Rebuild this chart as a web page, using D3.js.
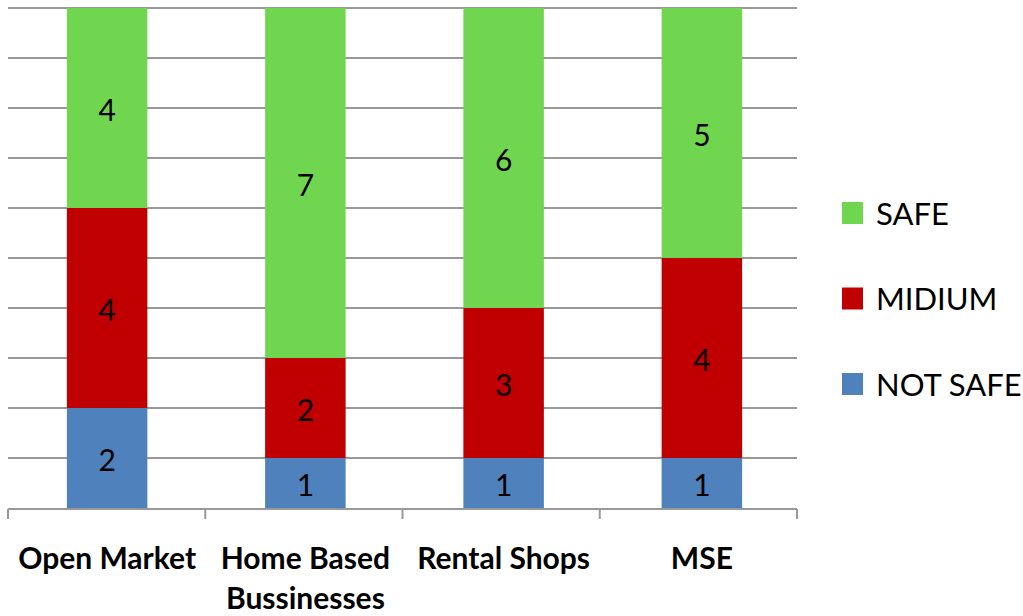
<!DOCTYPE html>
<html>
<head>
<meta charset="utf-8">
<script src="https://cdn.jsdelivr.net/npm/d3@7"></script>
<style>
  html, body { margin: 0; padding: 0; background: #fff; }
  svg { display: block; }
</style>
</head>
<body>
<svg id="chart" width="1023" height="616"></svg>
<script>
// Categories and stacked series values
const categories = ["Open Market", "Home Based Bussinesses", "Rental Shops", "MSE"];
const categoryLines = [["Open Market"], ["Home Based", "Bussinesses"], ["Rental Shops"], ["MSE"]];
const seriesNames = ["NOT SAFE", "MIDIUM", "SAFE"];
const notSafe = [2, 1, 1, 1];
const midium  = [4, 2, 3, 4];
const safe    = [4, 7, 6, 5];
const yTicks  = [0, 1, 2, 3, 4, 5, 6, 7, 8, 9, 10];
const colors  = { "NOT SAFE": "#4F81BD", "MIDIUM": "#C00000", "SAFE": "#70D650" };

const rows = categories.map((c, i) => ({
  cat: c, "NOT SAFE": notSafe[i], "MIDIUM": midium[i], "SAFE": safe[i]
}));

const svg = d3.select("#chart");
const m = { left: 8, right: 797, top: 8, bottom: 508 };
const font = "Lato, 'Open Sans', sans-serif";

// Category axis divisions and bar placement
const axisX = d3.scaleBand().domain(categories).range([m.left, m.right]);
const x = d3.scaleBand().domain(categories).range([m.left, m.right + 4])
  .paddingInner(0.594).paddingOuter(0.297);
const y = d3.scaleLinear().domain([0, 10]).range([m.bottom, m.top]);

// Horizontal gridlines
svg.append("g").selectAll("line").data(yTicks.filter(d => d > 0)).join("line")
  .attr("x1", m.left).attr("x2", m.right)
  .attr("y1", d => y(d)).attr("y2", d => y(d))
  .attr("stroke", "#999").attr("stroke-width", 2);

// Stacked bars
const stack = d3.stack().keys(seriesNames)(rows);
const layers = svg.append("g").selectAll("g").data(stack).join("g")
  .attr("fill", d => colors[d.key]);
layers.selectAll("rect").data(d => d).join("rect")
  .attr("x", d => x(d.data.cat))
  .attr("width", x.bandwidth())
  .attr("y", d => y(d[1]))
  .attr("height", d => y(d[0]) - y(d[1]));

// Value labels inside segments
const labels = svg.append("g");
stack.forEach(layer => {
  layer.forEach(d => {
    labels.append("text")
      .attr("x", x(d.data.cat) + x.bandwidth() / 2)
      .attr("y", (y(d[0]) + y(d[1])) / 2)
      .attr("dy", "0.42em")
      .attr("text-anchor", "middle")
      .attr("font-family", font)
      .attr("font-size", 30)
      .attr("fill", "#000")
      .text(d[1] - d[0]);
  });
});

// Category axis
const axisG = svg.append("g");
axisG.append("line")
  .attr("x1", m.left).attr("x2", m.right)
  .attr("y1", m.bottom + 1).attr("y2", m.bottom + 1)
  .attr("stroke", "#999").attr("stroke-width", 2);
const tickPos = categories.map(c => axisX(c)).concat([m.right]);
axisG.selectAll("line.tick").data(tickPos).join("line")
  .attr("class", "tick")
  .attr("x1", d => d).attr("x2", d => d)
  .attr("y1", m.bottom + 1).attr("y2", m.bottom + 11)
  .attr("stroke", "#999").attr("stroke-width", 2);

categoryLines.forEach((lines, i) => {
  const cx = x(categories[i]) + x.bandwidth() / 2;
  const t = axisG.append("text")
    .attr("x", cx)
    .attr("y", 569)
    .attr("text-anchor", "middle")
    .attr("font-family", font)
    .attr("font-weight", "bold")
    .attr("font-size", 30)
    .attr("fill", "#000");
  lines.forEach((ln, j) => {
    t.append("tspan").attr("x", cx)
      .attr("dy", j === 0 ? 0 : 40).text(ln);
  });
});

// Legend
const legendOrder = ["SAFE", "MIDIUM", "NOT SAFE"];
const legendY = d3.scalePoint().domain(legendOrder).range([213, 384]);
const leg = svg.append("g").selectAll("g").data(legendOrder).join("g")
  .attr("transform", d => `translate(842,${legendY(d)})`);
leg.append("rect").attr("x", 0).attr("y", -11).attr("width", 21).attr("height", 22)
  .attr("fill", d => colors[d]);
leg.append("text").attr("x", 34).attr("dy", "0.38em")
  .attr("font-family", font)
  .attr("font-size", 31).attr("fill", "#000")
  .text(d => d);
</script>
</body>
</html>
